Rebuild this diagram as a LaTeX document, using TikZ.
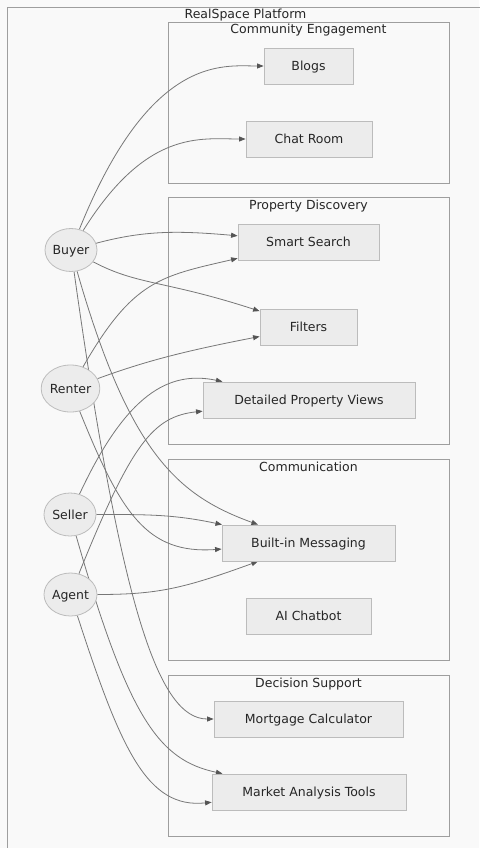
\documentclass[tikz,border=0pt]{standalone}
\usepackage{fontspec}
\setmainfont{DejaVu Sans}
\usetikzlibrary{shapes,arrows.meta}

\definecolor{pageBg}{HTML}{F9F9F9}
\definecolor{boxFill}{HTML}{ECECEC}
\definecolor{boxDraw}{HTML}{BCBCBC}
\definecolor{groupDraw}{HTML}{9E9E9E}
\definecolor{linkDraw}{HTML}{777777}
\definecolor{tipDraw}{HTML}{555555}
\definecolor{inkText}{HTML}{262626}

\pgfdeclarelayer{back}
\pgfdeclarelayer{links}
\pgfsetlayers{back,links,main}

\begin{document}
\begin{tikzpicture}[x=1pt,y=1pt,
  feature/.style={shape=rectangle,draw=boxDraw,fill=boxFill,align=center,line width=0.8pt,minimum height=36pt,inner sep=0pt,text height=10pt,text depth=1pt,text=inkText,font=\fontsize{12.5}{15}\selectfont},
  actor/.style={shape=ellipse,draw=boxDraw,fill=boxFill,align=center,line width=0.8pt,minimum width=52pt,minimum height=43pt,inner sep=0pt,text height=10pt,text depth=1pt,text=inkText,font=\fontsize{12.5}{15}\selectfont},
  group/.style={shape=rectangle,draw=groupDraw,line width=0.8pt,minimum width=281pt,inner sep=0pt},
  grouptitle/.style={anchor=base,inner sep=0pt,text=inkText,font=\fontsize{12.5}{15}\selectfont},
  link/.style={-{Triangle[length=6.5pt,width=5pt,color=tipDraw]},draw=linkDraw,line width=0.8pt}]
\useasboundingbox (0,0) rectangle (479,-848);
\begin{pgfonlayer}{back}
\fill[pageBg] (0,0) rectangle (479,-848);
\draw[groupDraw,line width=0.8pt] (7.5,-860) -- (7.5,-7) -- (490,-7);
\node[grouptitle] (platformTitle) at (245.5,-19) {RealSpace Platform};
\node[group,minimum height=161pt] (community) at (308.5,-102.5) {};
\node[grouptitle] (communityTitle) at (308.5,-34) {Community Engagement};
\node[group,minimum height=247pt] (discovery) at (308.5,-320.5) {};
\node[grouptitle] (discoveryTitle) at (308.5,-209) {Property Discovery};
\node[group,minimum height=201pt] (communication) at (308.5,-559.5) {};
\node[grouptitle] (communicationTitle) at (308.5,-471) {Communication};
\node[group,minimum height=161pt] (decision) at (308.5,-755.5) {};
\node[grouptitle] (decisionTitle) at (308.5,-687) {Decision Support};
\end{pgfonlayer}

\node[feature,minimum width=89pt] (blogs) at (308.5,-66) {Blogs};
\node[feature,minimum width=126pt] (chatRoom) at (309,-139) {Chat Room};
\node[feature,minimum width=141pt] (smartSearch) at (308.5,-242) {Smart Search};
\node[feature,minimum width=97pt] (filters) at (308.5,-327) {Filters};
\node[feature,minimum width=212pt] (propertyViews) at (309,-400) {Detailed Property Views};
\node[feature,minimum width=173pt] (messaging) at (308.5,-543) {Built-in Messaging};
\node[feature,minimum width=125pt] (aiChatbot) at (308.5,-616) {AI Chatbot};
\node[feature,minimum width=189pt] (mortgage) at (308.5,-719) {Mortgage Calculator};
\node[feature,minimum width=194pt] (marketTools) at (309,-792) {Market Analysis Tools};

\node[actor] (buyer) at (71,-250) {Buyer};
\node[actor,minimum width=57pt,minimum height=47pt] (renter) at (70.5,-388.5) {Renter};
\node[actor] (seller) at (70,-514.5) {Seller};
\node[actor,minimum width=53pt] (agent) at (70.5,-594.5) {Agent};

\begin{pgfonlayer}{links}
\path [link] (buyer) edge[out=68,in=180,out distance=190pt,in distance=40pt] (blogs);
\path [link] (buyer) edge[out=58,in=180,out distance=120pt,in distance=45pt] (chatRoom);
\path [link] (buyer) edge[out=15,in=175,out distance=50pt,in distance=60pt] (smartSearch);
\path [link] (renter) edge[out=60,in=193,out distance=100pt,in distance=80pt] (smartSearch);
\path [link] (buyer) edge[out=-28,in=162,out distance=50pt,in distance=100pt] (filters);
\path [link] (renter) edge[out=20,in=191,out distance=50pt,in distance=80pt] (filters);
\path [link] (seller) edge[out=65,in=168,out distance=110pt,in distance=55pt] (propertyViews);
\path [link] (agent) edge[out=68,in=186,out distance=140pt,in distance=50pt] (propertyViews);
\path [link] (buyer) edge[out=-74,in=160,out distance=190pt,in distance=85pt] (messaging);
\path [link] (seller) edge[out=0,in=168,out distance=50pt,in distance=50pt] (messaging);
\path [link] (renter) edge[out=-68,in=184,out distance=110pt,in distance=75pt] (messaging);
\path [link] (agent) edge[out=0,in=200,out distance=60pt,in distance=80pt] (messaging);
\path [link] (buyer) edge[out=-82,in=180,out distance=340pt,in distance=55pt] (mortgage);
\path [link] (seller) edge[out=-74,in=168,out distance=190pt,in distance=65pt] (marketTools);
\path [link] (agent) edge[out=-72,in=186,out distance=140pt,in distance=65pt] (marketTools);
\end{pgfonlayer}
\end{tikzpicture}
\end{document}
